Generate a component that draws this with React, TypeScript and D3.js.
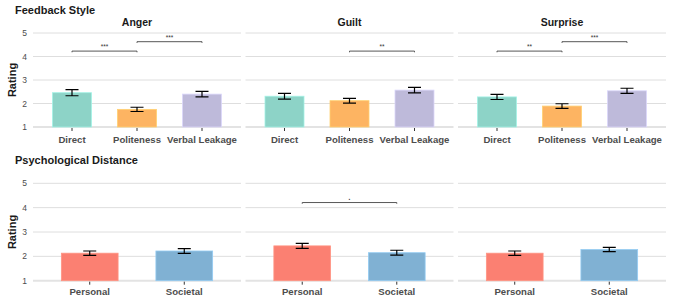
import React, { useEffect, useRef } from "react";
import * as d3 from "d3";

const emotions = ["Anger", "Guilt", "Surprise"];
const styles = ["Direct", "Politeness", "Verbal Leakage"];
const styleColors = ["#8DD3C7", "#FDB462", "#BEBADA"];
// mean rating and standard error, one row per emotion
const styleMeans = [
  [2.46, 1.75, 2.4],
  [2.31, 2.12, 2.57],
  [2.28, 1.89, 2.54],
];
const styleSE = [
  [0.13, 0.09, 0.12],
  [0.12, 0.1, 0.12],
  [0.11, 0.1, 0.11],
];
const distances = ["Personal", "Societal"];
const distColors = ["#FB8072", "#80B1D3"];
const distMeans = [
  [2.13, 2.22],
  [2.43, 2.15],
  [2.13, 2.28],
];
const distSE = [
  [0.09, 0.1],
  [0.1, 0.1],
  [0.09, 0.09],
];
const yTicks = [1, 2, 3, 4, 5];
// significance brackets: panel, from, to, height, label
const styleSig = [
  { panel: 0, from: "Direct", to: "Politeness", y: 4.23, label: "***" },
  { panel: 0, from: "Politeness", to: "Verbal Leakage", y: 4.63, label: "***" },
  { panel: 1, from: "Politeness", to: "Verbal Leakage", y: 4.23, label: "**" },
  { panel: 2, from: "Direct", to: "Politeness", y: 4.23, label: "**" },
  { panel: 2, from: "Politeness", to: "Verbal Leakage", y: 4.63, label: "***" },
];
const distSig = [{ panel: 1, from: "Personal", to: "Societal", y: 4.21, label: "." }];

const font = "'Liberation Sans', Arial, sans-serif";

export default function App() {
  const ref = useRef<SVGSVGElement>(null);

  useEffect(() => {
    const svg = d3.select(ref.current);
    svg.selectAll("*").remove();
    svg.attr("font-family", font);

    const panelX = [
      [33, 241],
      [245.5, 453.5],
      [458, 666],
    ];

    function drawRow(
      top: number,
      bottom: number,
      cats: string[],
      colors: string[],
      means: number[][],
      se: number[][],
      sig: { panel: number; from: string; to: string; y: number; label: string }[],
      titles: string[] | null,
      rowTitle: string,
      rowTitleY: number,
      labelY: number
    ) {
      const y = d3.scaleLinear().domain([1, 5]).range([bottom, top]);
      const g = svg.append("g");

      g.append("text")
        .attr("x", 15)
        .attr("y", rowTitleY)
        .attr("font-size", 11)
        .attr("font-weight", "bold")
        .attr("fill", "#1a1a1a")
        .text(rowTitle);

      g.append("text")
        .attr("transform", `translate(16,${(top + bottom) / 2}) rotate(-90)`)
        .attr("text-anchor", "middle")
        .attr("font-size", 11)
        .attr("font-weight", "bold")
        .attr("fill", "#1a1a1a")
        .text("Rating");

      g.selectAll(".ytick")
        .data(yTicks)
        .enter()
        .append("text")
        .attr("x", 27)
        .attr("y", (d) => y(d) + 3)
        .attr("text-anchor", "end")
        .attr("font-size", 8.5)
        .attr("fill", "#4d4d4d")
        .text((d) => d);

      panelX.forEach(([x0, x1], p) => {
        const x = d3.scalePoint<string>().domain(cats).range([x0, x1]).padding(0.6);
        const bw = x.step() * 0.6;
        const pg = g.append("g");

        pg.selectAll(".grid")
          .data(yTicks)
          .enter()
          .append("line")
          .attr("x1", x0)
          .attr("x2", x1)
          .attr("y1", (d) => y(d))
          .attr("y2", (d) => y(d))
          .attr("stroke", (d) => (d === 1 ? "#e3e3e3" : "#dedede"))
          .attr("stroke-width", (d) => (d === 1 ? 2 : 1));

        if (titles) {
          pg.append("text")
            .attr("x", (x0 + x1) / 2)
            .attr("y", 26)
            .attr("text-anchor", "middle")
            .attr("font-size", 10.5)
            .attr("font-weight", "bold")
            .attr("fill", "#1a1a1a")
            .text(titles[p]);
        }

        pg.selectAll(".bar")
          .data(cats)
          .enter()
          .append("rect")
          .attr("x", (d) => x(d)! - bw / 2)
          .attr("width", bw)
          .attr("y", (d, i) => y(means[p][i]))
          .attr("height", (d, i) => y(1) - y(means[p][i]))
          .attr("fill", (d, i) => colors[i])
          .attr("stroke", (d, i) => d3.color(colors[i])!.brighter(0.4).formatHex())
          .attr("stroke-width", 0.8);

        cats.forEach((c, i) => {
          const cx = x(c)!;
          const hi = y(means[p][i] + se[p][i]);
          const lo = y(means[p][i] - se[p][i]);
          pg.append("path")
            .attr(
              "d",
              `M${cx - 6.5},${hi}H${cx + 6.5}M${cx},${hi}V${lo}M${cx - 6.5},${lo}H${cx + 6.5}`
            )
            .attr("stroke", "#000")
            .attr("stroke-width", 1.2)
            .attr("fill", "none");
          pg.append("line")
            .attr("x1", cx)
            .attr("x2", cx)
            .attr("y1", bottom + 1)
            .attr("y2", bottom + 4)
            .attr("stroke", "#333")
            .attr("stroke-width", 1);
          pg.append("text")
            .attr("x", cx)
            .attr("y", labelY)
            .attr("text-anchor", "middle")
            .attr("font-size", 9.6)
            .attr("font-weight", "bold")
            .attr("fill", "#4d4d4d")
            .text(c);
        });

        sig
          .filter((s) => s.panel === p)
          .forEach((s) => {
            const xa = x(s.from)!;
            const xb = x(s.to)!;
            const yy = y(s.y);
            pg.append("path")
              .attr("d", `M${xa},${yy + 1.2}V${yy}H${xb}V${yy + 1.2}`)
              .attr("stroke", "#444")
              .attr("stroke-width", 0.9)
              .attr("fill", "none");
            pg.append("text")
              .attr("x", (xa + xb) / 2)
              .attr("y", yy - (s.label === "." ? 2.5 : 2))
              .attr("text-anchor", "middle")
              .attr("font-size", s.label === "." ? 10 : 6.5)
              .attr("fill", "#333")
              .text(s.label);
          });
      });
    }

    drawRow(33, 127, styles, styleColors, styleMeans, styleSE, styleSig, emotions, "Feedback Style", 13.5, 143);
    drawRow(183.3, 280.7, distances, distColors, distMeans, distSE, distSig, null, "Psychological Distance", 163.5, 294.5);
  }, []);

  return (
    <svg
      ref={ref}
      width={674}
      height={302}
      style={{ position: "absolute", left: 0, top: 0, background: "#fff" }}
    />
  );
}
